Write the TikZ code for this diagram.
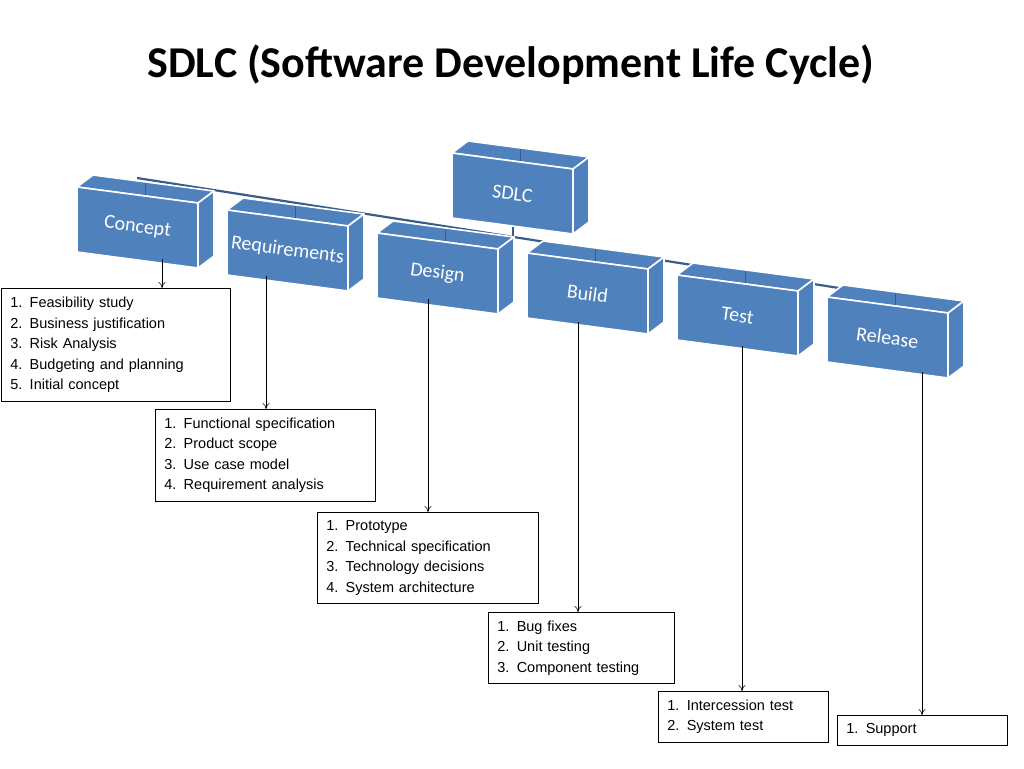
\documentclass[tikz,border=0pt]{standalone}
\usepackage{fontspec}
\usetikzlibrary{arrows.meta}
\setmainfont{Liberation Sans}
\newfontfamily\calfnt{Carlito}
\definecolor{blk}{HTML}{4F81BD}
\definecolor{lnk}{HTML}{385D8A}
\begin{document}
\begin{tikzpicture}[x=1pt,y=-1pt,
  face/.style={fill=blk,draw=white,line width=1.6pt,line join=round},
  lbl/.style={text=white,font=\calfnt\fontsize{20}{24}\selectfont,rotate=-7.5,inner sep=0},
  listbox/.style={draw=black,line width=0.8pt,anchor=north west,align=left,inner xsep=9pt,inner ysep=0pt,
     font=\fontsize{14.5}{20.5}\selectfont},
  arr/.style={-{To[length=6pt,width=7pt]},line width=0.6pt}]
\useasboundingbox (0,0) rectangle (1024,768);
\node[font=\calfnt\bfseries\fontsize{44}{50}\selectfont] (title) at (511,65) {SDLC (Software Development Life Cycle)};
% link line
\draw[lnk,line width=2.2pt] (137,178) -- (890,296);
\draw[lnk,line width=2.2pt] (513,220) -- (513,238);
\newcommand\blkdraw[4]{%
  \draw[face] (#2,#3) -- ++(16,-12) -- ++(121,16) -- ++(-16,12) -- cycle;
  \draw[lnk,line width=1.2pt] (#2+68.5,#3-4) -- ++(0,14);
  \draw[face] (#2+121,#3+16) -- ++(16,-12) -- ++(0,65) -- ++(-16,12) -- cycle;
  \draw[face] (#2,#3) -- ++(121,16) -- ++(0,65) -- ++(-121,-16) -- cycle;
  \node[lbl] (#1) at (#2+60.5,#3+40.5) {#4};}
\blkdraw{sdlc}{452}{153}{SDLC}
\blkdraw{concept}{77}{187}{Concept}
\blkdraw{req}{227}{210}{Requirements}
\blkdraw{design}{377}{233}{Design}
\blkdraw{build}{527}{253}{Build}
\blkdraw{test}{677}{275}{Test}
\blkdraw{release}{827}{297}{Release}
% boxes
\node[listbox,minimum width=229pt,minimum height=113pt,text width=211pt] (b1) at (1,288)
 {1. Feasibility study\\2. Business justification\\3. Risk Analysis\\4. Budgeting and planning\\5. Initial concept};
\node[listbox,minimum width=220pt,minimum height=92pt,text width=202pt] (b2) at (155,409)
 {1. Functional specification\\2. Product scope\\3. Use case model\\4. Requirement analysis};
\node[listbox,minimum width=221pt,minimum height=91pt,text width=203pt] (b3) at (317,512)
 {1. Prototype\\2. Technical specification\\3. Technology decisions\\4. System architecture};
\node[listbox,minimum width=186pt,minimum height=71pt,text width=168pt] (b4) at (488,612)
 {1. Bug fixes\\2. Unit testing\\3. Component testing};
\node[listbox,minimum width=170pt,minimum height=51pt,text width=152pt] (b5) at (658,691)
 {1. Intercession test\\2. System test};
\node[listbox,minimum width=170pt,minimum height=30pt,text width=152pt] (b6) at (837,715)
 {1. Support};
% arrows
\coordinate (c1) at (162,259); \coordinate (c2) at (266,276); \coordinate (c3) at (428,299);
\coordinate (c4) at (578,322); \coordinate (c5) at (742,346); \coordinate (c6) at (922,372);
\draw[arr] (c1) -- (c1 |- b1.north);
\draw[arr] (c2) -- (c2 |- b2.north);
\draw[arr] (c3) -- (c3 |- b3.north);
\draw[arr] (c4) -- (c4 |- b4.north);
\draw[arr] (c5) -- (c5 |- b5.north);
\draw[arr] (c6) -- (c6 |- b6.north);
\end{tikzpicture}
\end{document}
